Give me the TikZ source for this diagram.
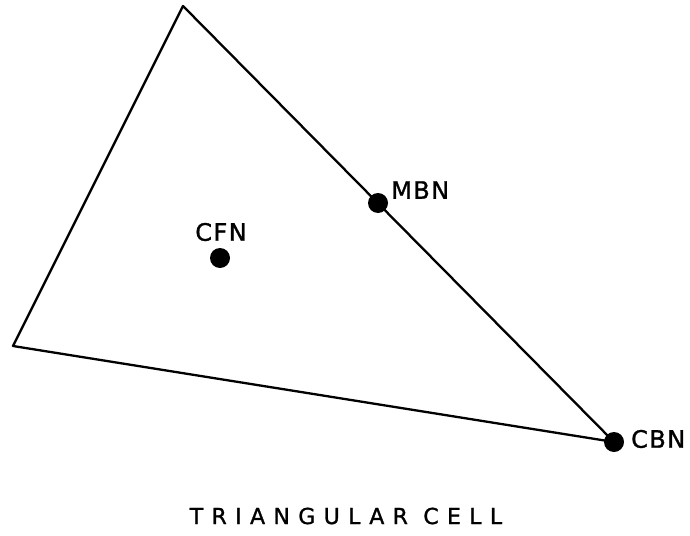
\documentclass[tikz,border=0pt]{standalone}
\usepackage{fontspec}
\newfontfamily\lblfont[LetterSpace=6,FakeBold=1.2]{DejaVu Sans}
\newfontfamily\capfont[LetterSpace=38,FakeBold=1.2]{DejaVu Sans}
\begin{document}
\begin{tikzpicture}[x=1pt,y=-1pt,
  edge/.style={line width=2.3pt,line join=round},
  dot/.style={circle,fill=black,inner sep=0pt,minimum size=20pt},
  lbl/.style={inner sep=0pt,font=\lblfont\fontsize{24}{26}\selectfont},
  titlelbl/.style={inner sep=0pt,font=\capfont\fontsize{22}{24}\selectfont}]
\useasboundingbox (0,0) rectangle (690,535);
\coordinate (T) at (183,6);
\coordinate (L) at (13,346);
\coordinate (R) at (614,442);
\draw[edge] (T) -- (L) -- (R) -- cycle;
\node[dot] (mbn) at (378,203) {};
\node[dot] (cfn) at (220,258) {};
\node[dot] (cbn) at (R) {};
\node[lbl,anchor=west] (mbnl) at (391,190) {MBN};
\node[lbl] (cfnl) at (221,232) {CFN};
\node[lbl,anchor=west] (cbnl) at (631,439) {CBN};
\node[titlelbl] (title) at (346,516) {TRIANGULAR CELL};
\end{tikzpicture}
\end{document}
